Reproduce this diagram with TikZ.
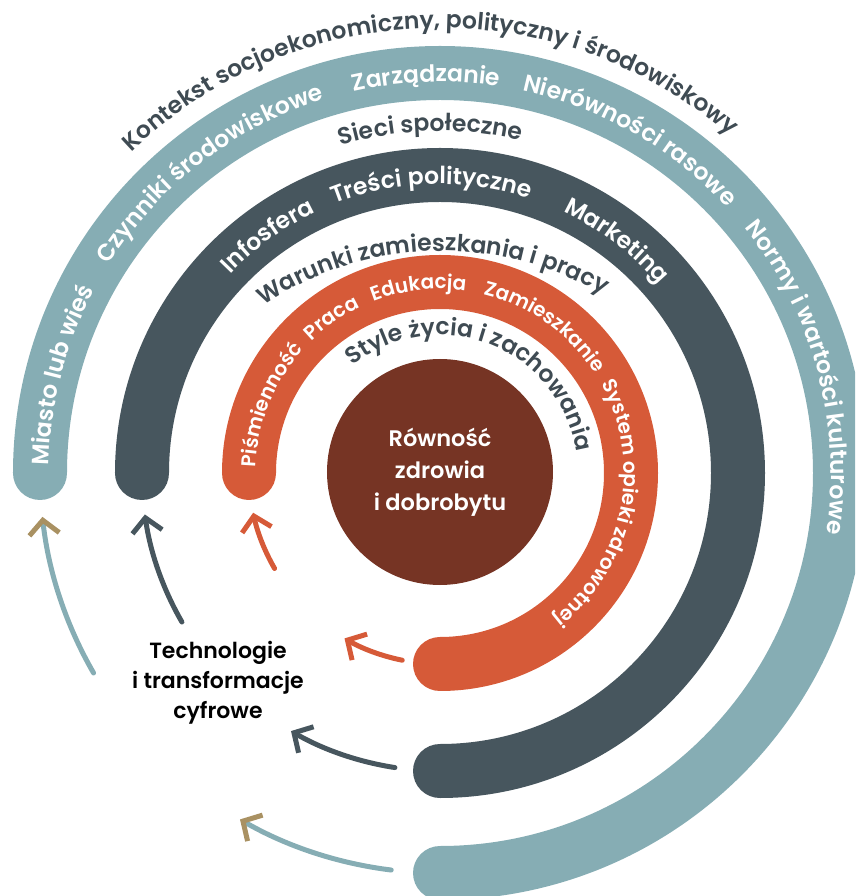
\documentclass[tikz,border=0pt]{standalone}
\usepackage{fontspec}
\setmainfont{Poppins SemiBold}
\usetikzlibrary{arrows.meta,decorations.text}
\definecolor{ringteal}{HTML}{86ADB4}
\definecolor{ringslate}{HTML}{47565E}
\definecolor{ringorange}{HTML}{D65A38}
\definecolor{corebrown}{HTML}{763424}
\definecolor{labelgrey}{HTML}{3F4B53}
\definecolor{tiptan}{HTML}{A99162}
\newcommand{\bandfont}{\fontsize{23.5}{28}\selectfont}
\newcommand{\ringtext}[5][0,0]{%
  \path[decorate,decoration={text along path,text align=center,
      text color=#4,text={|\bandfont|#5}}]
    (#1) ++({#3+80}:#2) arc[start angle={#3+80},end angle={#3-80},radius=#2];}

\begin{document}
\begin{tikzpicture}[x=1pt,y=1pt,
  band/.style={line width=54pt,line cap=round},
  cycle arrow/.style 2 args={draw=#1,line width=5pt,line cap=round,
    -{Straight Barb[length=14pt,width=30pt,color=#2]}}]

  \useasboundingbox (-440,-423) rectangle (415,473);
  \clip (-440,-423) rectangle (415,473);

  % rings
  \foreach \r/\col in {400/ringteal,298/ringslate,191/ringorange}
    \draw[band,\col] (180:\r) arc[start angle=180,end angle=-90,radius=\r];

  \node[circle,fill=corebrown,minimum size=226pt,text=white,align=center,
    font=\fontsize{22.5}{32}\selectfont] (core) at (0,1)
    {Równość\\zdrowia\\i dobrobytu};

  % arrows round the ring ends
  \foreach \r/\col/\tipcol/\upper/\lower in {400/ringteal/tiptan/186.3/263,
      298/ringslate/ringslate/188/261.3,191/ringorange/ringorange/192/258.6} {
    \draw[cycle arrow={\col}{\tipcol}] (210:\r)
      arc[start angle=210,end angle=\upper,radius=\r];
    \draw[cycle arrow={\col}{\tipcol}] (\lower:\r)
      arc[start angle=\lower,end angle=240,radius=\r];
  }

  \node[align=center,font=\fontsize{22}{30}\selectfont] (tech) at (-222,-210)
    {Technologie\\i transformacje\\cyfrowe};

  % labels between the rings
  \ringtext{445}{91.6}{labelgrey}{Kontekst socjoekonomiczny, polityczny i środowiskowy}
  \ringtext{342}{91.6}{labelgrey}{Sieci społeczne}
  \ringtext[2,-97]{319}{91.8}{labelgrey}{Warunki zamieszkania i pracy}
  \ringtext{138}{69}{labelgrey}{Style życia i zachowania}

  % outer ring
  \ringtext{391}{165.5}{white}{Miasto lub wieś}
  \ringtext{391}{127.5}{white}{Czynniki środowiskowe}
  \ringtext{391}{92}{white}{Zarządzanie}
  \ringtext{391}{60.3}{white}{Nierówności rasowe}
  \ringtext{391}{15}{white}{Normy i wartości kulturowe}

  % middle ring
  \ringtext{289}{126}{white}{Infosfera}
  \ringtext{289}{91.7}{white}{Treści polityczne}
  \ringtext{289}{52.7}{white}{Marketing}

  % inner ring
  \begin{scope}
    \renewcommand{\bandfont}{\fontsize{20}{24}\selectfont}
    \ringtext{184}{158}{white}{Piśmienność}
    \ringtext{184}{125}{white}{Praca}
    \ringtext{184}{96.6}{white}{Edukacja}
    \ringtext{184}{54.5}{white}{Zamieszkanie}
    \ringtext{184}{-11.5}{white}{System opieki zdrowotnej}
  \end{scope}

\end{tikzpicture}
\end{document}
